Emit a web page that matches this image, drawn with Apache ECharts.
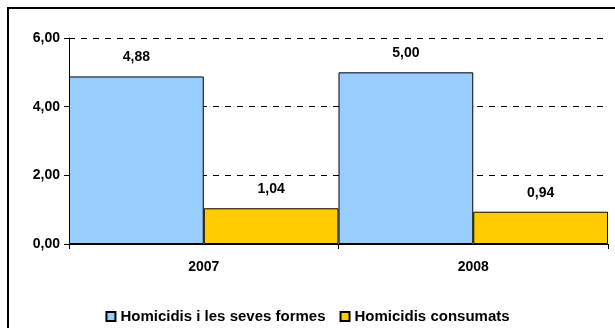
<!DOCTYPE html>
<html>
<head>
<meta charset="utf-8">
<script src="https://cdn.jsdelivr.net/npm/echarts@6/dist/echarts.min.js"></script>
<style>
	html, body { margin: 0; padding: 0; background: #fff; }
	#chart { width: 615px; height: 328px; }
</style>
</head>
<body>
<div id="chart"></div>
<script>
	var years = ['2007', '2008'];
	var homicidisFormes = [4.88, 5.00];
	var homicidisConsumats = [1.04, 0.94];
	var seriesNames = ['Homicidis i les seves formes', 'Homicidis consumats'];

	function comma(v) {
		return Number(v).toFixed(2).replace('.', ',');
	}

	var chart = echarts.init(document.getElementById('chart'));
	var font = 'Arial, "Liberation Sans", sans-serif';

	function barSeries(name, data, color) {
		return {
			name: name,
			type: 'bar',
			data: data,
			barGap: 0,
			barCategoryGap: 0,
			itemStyle: { color: color, borderColor: '#000', borderWidth: 1 },
			label: {
				show: true,
				position: 'top',
				distance: 12,
				color: '#000',
				fontFamily: font,
				fontWeight: 'bold',
				fontSize: 14,
				formatter: function (p) { return comma(p.value); }
			}
		};
	}

	chart.setOption({
		animation: false,
		backgroundColor: '#fff',
		graphic: [{
			type: 'rect',
			shape: { x: 8, y: 8, width: 620, height: 340 },
			style: { fill: 'none', stroke: '#000', lineWidth: 2 },
			z: 100
		}],
		grid: { left: 69, right: 7, top: 38, bottom: 84 },
		legend: {
			top: 304,
			left: 'center',
			itemWidth: 9,
			itemHeight: 9,
			itemGap: 14,
			icon: 'rect',
			textStyle: { fontFamily: font, fontWeight: 'bold', fontSize: 15, color: '#000' },
			data: seriesNames
		},
		xAxis: {
			type: 'category',
			data: years,
			axisLine: { lineStyle: { color: '#000', width: 1 } },
			axisTick: { show: true, length: 5, lineStyle: { color: '#000' } },
			axisLabel: { color: '#000', fontFamily: font, fontWeight: 'bold', fontSize: 14, margin: 16 }
		},
		yAxis: {
			type: 'value',
			min: 0,
			max: 6,
			interval: 2,
			axisLine: { show: true, lineStyle: { color: '#000', width: 1 } },
			axisTick: { show: true, length: 5, lineStyle: { color: '#000' } },
			axisLabel: {
				color: '#000', fontFamily: font, fontWeight: 'bold', fontSize: 14, margin: 9,
				formatter: comma
			},
			splitLine: {
				show: true,
				lineStyle: { color: '#000', type: [6, 6], width: 1 },
				showMinLine: false
			}
		},
		series: [
			barSeries(seriesNames[0], homicidisFormes, '#99ccff'),
			barSeries(seriesNames[1], homicidisConsumats, '#ffcc00')
		]
	});
</script>
</body>
</html>
